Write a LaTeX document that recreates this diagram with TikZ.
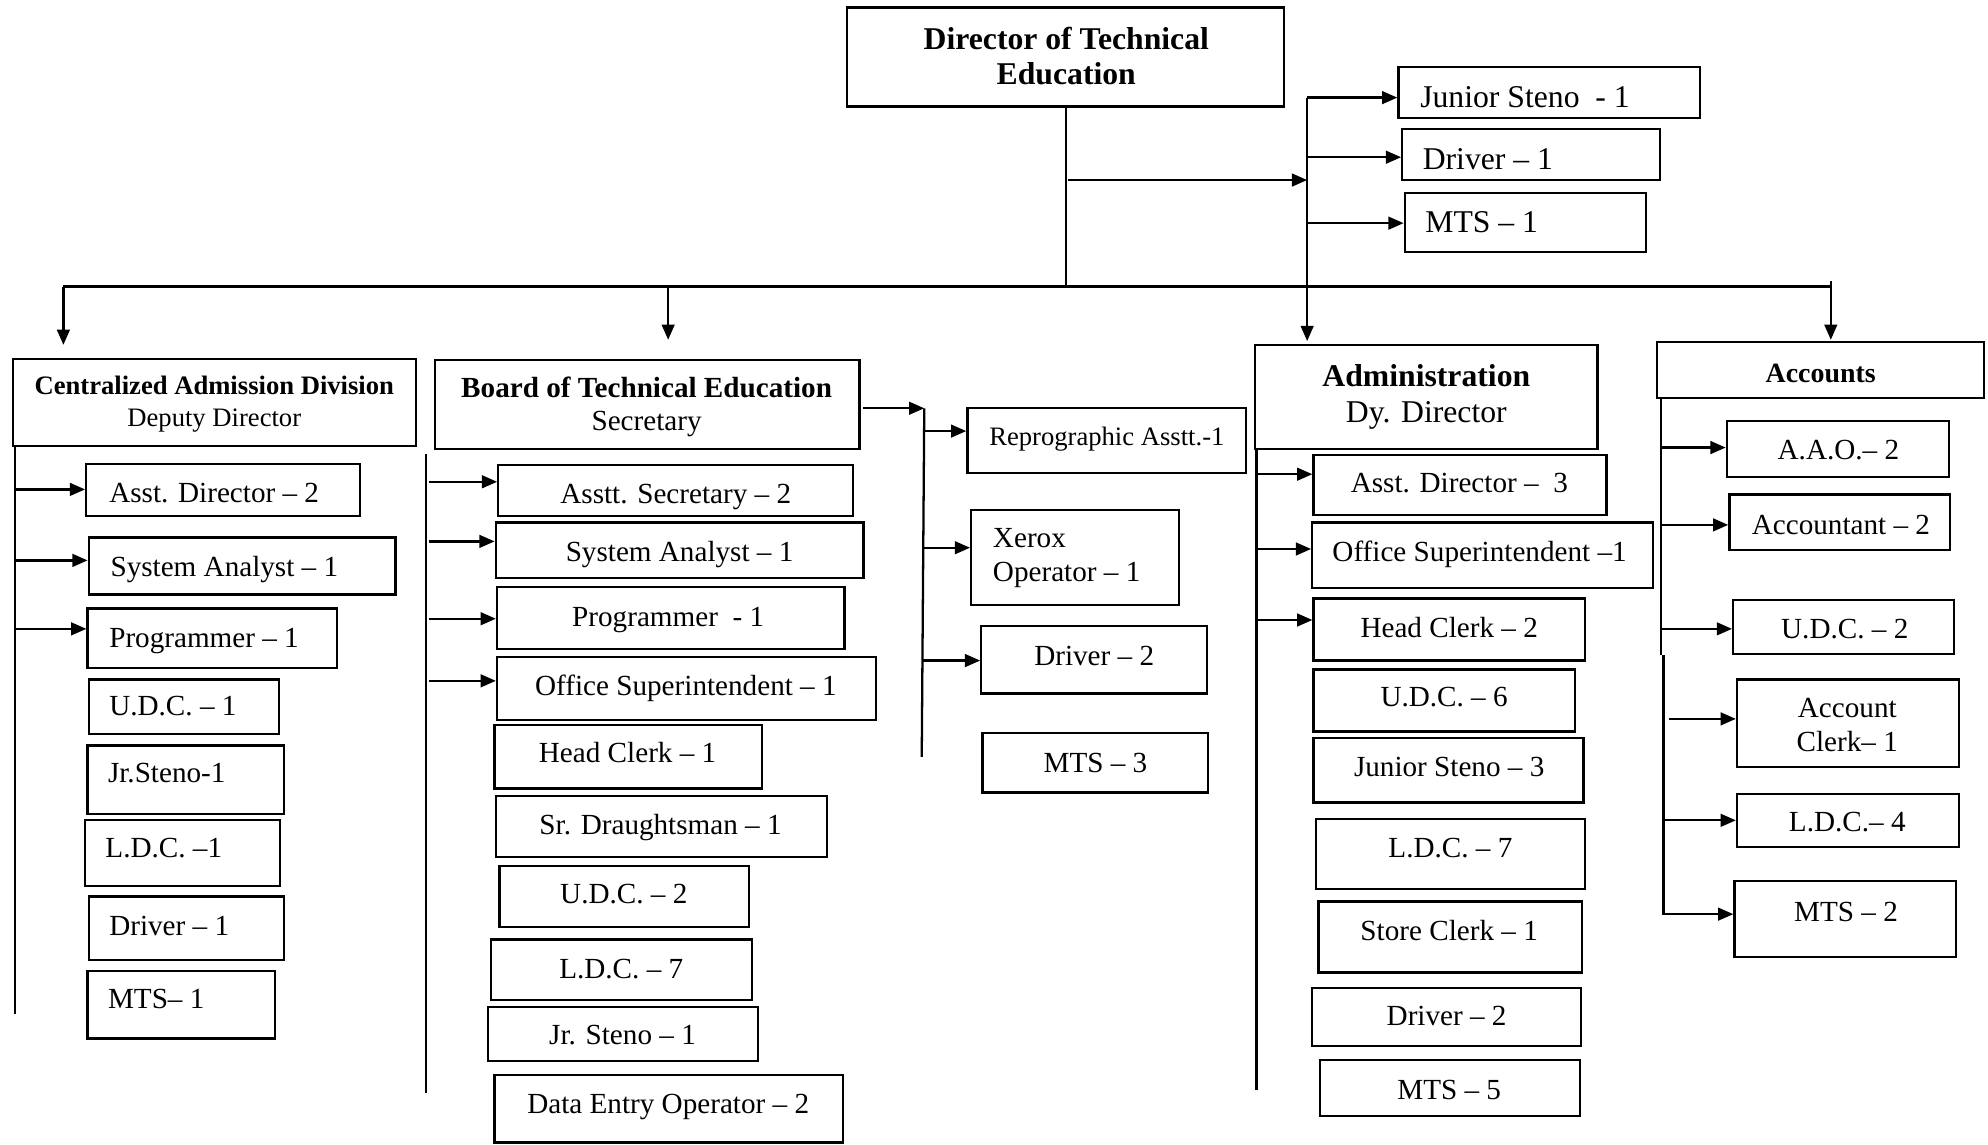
\documentclass[tikz,border=0pt]{standalone}
\usepackage{fontspec}
\setmainfont{Liberation Serif}
\usetikzlibrary{arrows.meta}
\tikzset{
  bx/.style={draw, line width=1.8pt, inner sep=0pt},
  tx/.style={inner sep=0pt, font=\fontsize{23}{27}\selectfont, text height=15pt, text depth=0pt},
  big/.style={font=\fontsize{25}{28}\selectfont},
  sml/.style={font=\fontsize{21}{25}\selectfont},
  ln/.style={line width=1.8pt},
  arr/.style={line width=1.8pt, -{Triangle[length=12pt,width=10pt]}},
}
% name, x1, y1, x2, y2, tx, ty, options, text
\newcommand\ob[9]{%
  \node[bx, minimum width={(#4-#2)*1pt}, minimum height={(#5-#3)*1pt}] (#1) at ({(#2+#4)/2},{(#3+#5)/2}) {};
  \node[tx,#8] (#1t) at (#6,#7) {#9};
}
\begin{document}
\begin{tikzpicture}[x=1pt,y=-1pt]
\useasboundingbox (0,0) rectangle (1568,903);

% Director and personal staff
\ob{dir}{668}{6}{1013}{84}{841}{45}{big,align=center,text height=44pt}{\bfseries Director of Technical\\\bfseries Education}
\ob{js}{1103}{53}{1341}{93}{1120}{77}{big,anchor=west}{Junior Steno~ - 1}
\ob{drv}{1106}{102}{1309}{142}{1122}{126}{big,anchor=west}{Driver -- 1}
\ob{mts}{1108}{152}{1298}{199}{1124}{176}{big,anchor=west}{MTS -- 1}

% Division heads
\ob{cad}{10}{283}{328}{352}{169}{317}{sml,align=center,text height=39pt}{\bfseries Centralized Admission Division\\Deputy Director}
\ob{bte}{343}{284}{678}{354}{510}{319}{align=center,font=\fontsize{23}{26}\selectfont,text height=41pt}{\bfseries Board of Technical Education\\Secretary}
\ob{adm}{990}{272}{1260}{354}{1125}{311}{big,align=center,text height=44pt}{\bfseries Administration\\Dy. Director}
\ob{acc}{1307}{270}{1565}{314}{1436}{294}{font=\fontsize{22}{26}\selectfont}{\bfseries Accounts}

% Tree connectors
\coordinate (hL) at (50,226);
\coordinate (hR) at (1445,226);
\coordinate (hB) at (527,226);
\coordinate (hA) at (1031,226);
\coordinate (hC) at (1444,222);
\coordinate (sT) at (1031,77);
\coordinate (s2) at (1031,124);
\coordinate (s3) at (1031,176);
\coordinate (sIn) at (842,142);
\draw[ln] (dir.south) -- (dir.south |- hL);
\draw[ln] (hL) -- (hR);
\draw[arr] (hL) -- (50,272);
\draw[arr] (hB) -- (527,268);
\draw[ln] (sT) -- (hA);
\draw[arr] (hA) -- (1031,269);
\draw[arr] (hC) -- (1444,268);
\draw[arr] (sIn) -- (sIn -| sT);
\draw[arr] (sT) -- (sT -| js.west);
\draw[arr] (s2) -- (s2 -| drv.west);
\draw[arr] (s3) -- (s3 -| mts.west);

% Centralized Admission Division
\ob{cad1}{68}{366}{284}{407}{86}{389}{anchor=west}{Asst. Director -- 2}
\ob{cad2}{70}{424}{312}{469}{87}{447}{anchor=west}{System Analyst -- 1}
\ob{cad3}{69}{480}{266}{527}{86}{503}{anchor=west}{Programmer -- 1}
\ob{cad4}{70}{536}{220}{579}{86}{557}{anchor=west}{U.D.C. -- 1}
\ob{cad5}{69}{588}{224}{642}{85}{610}{anchor=west}{Jr.Steno-1}
\ob{cad6}{67}{647}{221}{699}{83}{669}{anchor=west}{L.D.C. --1}
\ob{cad7}{70}{707}{224}{757}{86}{730}{anchor=west}{Driver -- 1}
\ob{cad8}{69}{766}{217}{819}{85}{788}{anchor=west}{MTS-- 1}
\coordinate (cT) at (12,352);
\coordinate (cB) at (12,800);
\coordinate (c1) at (12,386);
\coordinate (c2) at (12,442);
\coordinate (c3) at (12,496);
\draw[ln] (cT) -- (cB);
\draw[arr] (c1) -- (c1 -| cad1.west);
\draw[arr] (c2) -- (c2 -| cad2.west);
\draw[arr] (c3) -- (c3 -| cad3.west);

% Board of Technical Education
\ob{b1}{393}{367}{673}{407}{533}{390}{}{Asstt. Secretary -- 2}
\ob{b2}{391}{412}{681}{456}{536}{435}{}{System Analyst -- 1}
\ob{b3}{392}{463}{666}{512}{527}{487}{}{Programmer~ - 1}
\ob{b4}{392}{518}{691}{568}{541}{541}{}{Office Superintendent -- 1}
\ob{b5}{390}{572}{601}{622}{495}{594}{}{Head Clerk -- 1}
\ob{b6}{391}{628}{652}{676}{521}{651}{}{Sr. Draughtsman -- 1}
\ob{b7}{394}{683}{591}{731}{492}{705}{}{U.D.C. -- 2}
\ob{b8}{387}{741}{593}{789}{490}{764}{}{L.D.C. -- 7}
\ob{b9}{385}{794}{598}{837}{491}{816}{}{Jr. Steno -- 1}
\ob{b10}{390}{848}{665}{901}{527}{871}{}{Data Entry Operator -- 2}
\coordinate (bT) at (336,358);
\coordinate (bB) at (336,862);
\coordinate (bb1) at (338,380);
\coordinate (bb2) at (338,427);
\coordinate (bb3) at (338,488);
\coordinate (bb4) at (338,537);
\draw[ln] (bT) -- (bB);
\draw[arr] (bb1) -- (bb1 -| b1.west);
\draw[arr] (bb2) -- (bb2 -| b2.west);
\draw[arr] (bb3) -- (bb3 -| b3.west);
\draw[arr] (bb4) -- (bb4 -| b4.west);

% Reprographic unit of the Board
\ob{r1}{763}{322}{983}{373}{873}{344}{sml}{Reprographic Asstt.-1}
\ob{r2}{766}{402}{930}{477}{783}{438}{anchor=west,align=left,text height=42pt}{Xerox\\Operator -- 1}
\ob{r3}{774}{494}{952}{547}{863}{517}{}{Driver -- 2}
\ob{r4}{775}{578}{953}{625}{864}{602}{}{MTS -- 3}
\coordinate (rT) at (729,322);
\coordinate (rB) at (727,597);
\coordinate (rr1) at (729,340);
\coordinate (rr2) at (728,432);
\coordinate (rr3) at (728,521);
\draw[ln] (rT) -- (rB);
\draw[arr] (681,322) -- (rT);
\draw[arr] (rr1) -- (rr1 -| r1.west);
\draw[arr] (rr2) -- (rr2 -| r2.west);
\draw[arr] (rr3) -- (rr3 -| r3.west);

% Administration
\ob{a1}{1036}{359}{1267}{406}{1151}{381}{}{Asst. Director --~ 3}
\ob{a2}{1035}{412}{1304}{464}{1167}{435}{}{Office Superintendent --1}
\ob{a3}{1036}{472}{1250}{521}{1143}{495}{}{Head Clerk -- 2}
\ob{a4}{1036}{528}{1242}{577}{1139}{550}{}{U.D.C. -- 6}
\ob{a5}{1036}{582}{1249}{633}{1143}{605}{}{Junior Steno -- 3}
\ob{a6}{1038}{646}{1250}{701}{1144}{669}{}{L.D.C. -- 7}
\ob{a7}{1040}{711}{1248}{767}{1143}{734}{}{Store Clerk -- 1}
\ob{a8}{1035}{779}{1247}{825}{1141}{801}{}{Driver -- 2}
\ob{a9}{1041}{836}{1246}{880}{1143}{860}{}{MTS -- 5}
\coordinate (aT) at (991,354);
\coordinate (aB) at (991,860);
\coordinate (aa1) at (991,374);
\coordinate (aa2) at (991,433);
\coordinate (aa3) at (991,489);
\draw[ln] (aT) -- (aB);
\draw[arr] (aa1) -- (aa1 -| a1.west);
\draw[arr] (aa2) -- (aa2 -| a2.west);
\draw[arr] (aa3) -- (aa3 -| a3.west);

% Accounts
\ob{c1b}{1362}{332}{1537}{376}{1450}{355}{}{A.A.O.-- 2}
\ob{c2b}{1364}{390}{1538}{434}{1452}{414}{}{Accountant -- 2}
\ob{c3b}{1367}{473}{1541}{516}{1455}{496}{}{U.D.C. -- 2}
\ob{c4b}{1370}{536}{1545}{605}{1457}{572}{align=center,text height=42pt}{Account\\Clerk-- 1}
\ob{c5b}{1370}{626}{1545}{668}{1457}{648}{}{L.D.C.-- 4}
\ob{c6b}{1368}{695}{1543}{755}{1456}{719}{}{MTS -- 2}
\coordinate (kT) at (1310,314);
\coordinate (kM) at (1310,517);
\coordinate (kM2) at (1312,517);
\coordinate (kB) at (1312,722);
\coordinate (k1) at (1310,353);
\coordinate (k2) at (1310,414);
\coordinate (k3) at (1310,496);
\coordinate (k4) at (1316,567);
\coordinate (k5) at (1312,647);
\coordinate (k6) at (1312,721);
\draw[ln] (kT) -- (kM);
\draw[ln] (kM2) -- (kB);
\draw[arr] (k1) -- (k1 -| c1b.west);
\draw[arr] (k2) -- (k2 -| c2b.west);
\draw[arr] (k3) -- (k3 -| c3b.west);
\draw[arr] (k4) -- (k4 -| c4b.west);
\draw[arr] (k5) -- (k5 -| c5b.west);
\draw[arr] (k6) -- (k6 -| c6b.west);
\end{tikzpicture}
\end{document}
